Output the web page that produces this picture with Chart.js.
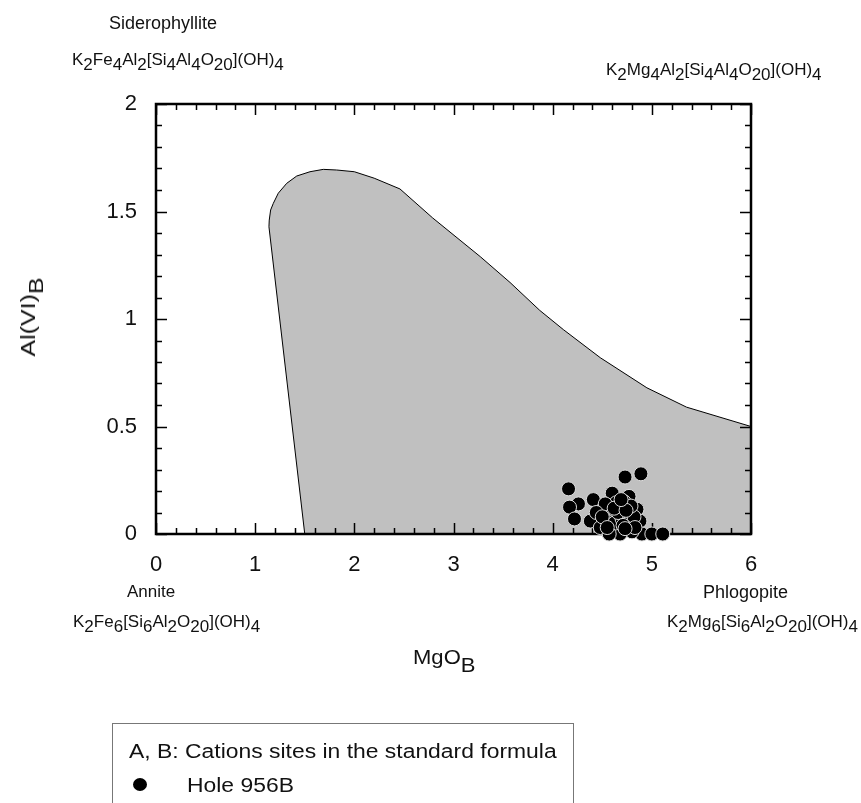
<!DOCTYPE html>
<html>
<head>
<meta charset="utf-8">
<script src="https://cdn.jsdelivr.net/npm/chart.js@4.4.0/dist/chart.umd.min.js"></script>
<style>
  html, body { margin: 0; padding: 0; background: #fff; }
  #wrap { position: relative; width: 861px; height: 803px; overflow: hidden;
          font-family: "Liberation Sans", Arial, sans-serif; color: #111; }
  #plot { position: absolute; left: 0; top: 0; }
  .lbl { position: absolute; white-space: nowrap; line-height: 1; font-size: 18px; }
  .f { font-size: 17px; }
  .s { position: relative; top: 5px; }
  .t .s { top: 8px; }
  #xTitle { left: 413px; top: 646px; font-size: 21px; transform: scaleX(1.05); transform-origin: left center; }
  #yTitle { left: 28px; top: 317px; font-size: 20px; transform: translate(-50%, -50%) rotate(-90deg) scaleX(1.25); }
  #key { position: absolute; left: 112px; top: 723px; width: 460px; height: 200px;
         border: 1px solid #777; font-size: 20px; line-height: 1; }
  #key .row { position: absolute; white-space: nowrap; transform: scaleX(1.145); transform-origin: left center; }
  #key .dot { position: absolute; left: 20px; top: 54px; width: 14px; height: 13px;
              border-radius: 50%; background: #000; }
</style>
</head>
<body>
<div id="wrap">
  <canvas id="plot" width="861" height="803"></canvas>

  <div class="lbl" style="left:109px; top:14px;">Siderophyllite</div>
  <div class="lbl f" style="left:72px; top:51px;">K<span class="s">2</span>Fe<span class="s">4</span>Al<span class="s">2</span>[Si<span class="s">4</span>Al<span class="s">4</span>O<span class="s">20</span>](OH)<span class="s">4</span></div>
  <div class="lbl f" style="left:606px; top:61px;">K<span class="s">2</span>Mg<span class="s">4</span>Al<span class="s">2</span>[Si<span class="s">4</span>Al<span class="s">4</span>O<span class="s">20</span>](OH)<span class="s">4</span></div>
  <div class="lbl f" style="left:127px; top:583px;">Annite</div>
  <div class="lbl f" style="left:73px; top:613px;">K<span class="s">2</span>Fe<span class="s">6</span>[Si<span class="s">6</span>Al<span class="s">2</span>O<span class="s">20</span>](OH)<span class="s">4</span></div>
  <div class="lbl" style="left:703px; top:583px;">Phlogopite</div>
  <div class="lbl f" style="left:667px; top:613px;">K<span class="s">2</span>Mg<span class="s">6</span>[Si<span class="s">6</span>Al<span class="s">2</span>O<span class="s">20</span>](OH)<span class="s">4</span></div>

  <div class="lbl t" id="xTitle">MgO<span class="s">B</span></div>
  <div class="lbl t" id="yTitle">Al(VI)<span class="s">B</span></div>

  <div id="key">
    <div class="row" style="left:16px; top:17px;">A, B: Cations sites in the standard formula</div>
    <div class="dot"></div>
    <div class="row" style="left:74px; top:51px;">Hole 956B</div>
  </div>
</div>

<script>
// biotite field outline (MgO_B, Al(VI)_B), traced from the foot up the Fe side and over the top
const fieldX = [1.50, 1.139, 1.142, 1.156, 1.183, 1.233, 1.318, 1.419, 1.553, 1.687, 1.822,
                2.00, 2.20, 2.46, 2.79, 3.27, 3.57, 3.87, 4.11, 4.48, 4.95, 5.35, 6.00, 6.00];
const fieldY = [0.00, 1.429, 1.46, 1.507, 1.538, 1.585, 1.631, 1.665, 1.685, 1.696, 1.693,
                1.685, 1.655, 1.605, 1.47, 1.29, 1.17, 1.04, 0.95, 0.82, 0.68, 0.59, 0.50, 0.00];

// Hole 956B analyses
const holeX = [4.89, 4.73, 4.16, 4.60, 4.41, 4.26, 4.17, 4.22, 4.38, 4.77,
               4.85, 4.48, 4.58, 4.70, 4.64, 4.75, 4.54, 4.88, 4.73, 4.60,
               4.90, 5.00, 5.11, 4.80, 4.48, 4.68, 4.64, 4.53, 4.44, 4.67,
               4.72, 4.62, 4.70, 4.76, 4.82, 4.66, 4.57, 4.71, 4.79, 4.50,
               4.62, 4.74, 4.69, 4.83, 4.55, 4.73];
const holeY = [0.28, 0.265, 0.21, 0.19, 0.16, 0.14, 0.125, 0.07, 0.06, 0.175,
               0.115, 0.10, 0.11, 0.13, 0.08, 0.09, 0.06, 0.06, 0.025, 0.02,
               0.00, 0.00, 0.00, 0.01, 0.03, 0.00, 0.145, 0.14, 0.10, 0.12,
               0.15, 0.05, 0.07, 0.05, 0.08, 0.10, 0.00, 0.04, 0.13, 0.08,
               0.12, 0.11, 0.16, 0.03, 0.03, 0.025];

const xMin = 0, xMax = 6, xStep = 1, xMinor = 0.2;
const yMin = 0, yMax = 2, yStep = 0.5, yMinor = 0.1;

const toPts = (xs, ys) => xs.map((x, i) => ({ x, y: ys[i] }));

// box frame with inward ticks on all four sides
const frameTicks = {
  id: 'frameTicks',
  beforeDatasetsDraw(chart) {
    const { ctx, chartArea: a, scales: { x, y } } = chart;
    ctx.save();
    ctx.strokeStyle = '#000';
    ctx.lineWidth = 1.5;
    ctx.beginPath();
    const nx = Math.round((xMax - xMin) / xMinor);
    for (let i = 0; i <= nx; i++) {
      const px = Math.round(x.getPixelForValue(xMin + i * xMinor)) + 0.5;
      const len = i % Math.round(xStep / xMinor) === 0 ? 11 : 6;
      ctx.moveTo(px, a.bottom); ctx.lineTo(px, a.bottom - len);
      ctx.moveTo(px, a.top); ctx.lineTo(px, a.top + len);
    }
    const ny = Math.round((yMax - yMin) / yMinor);
    for (let i = 0; i <= ny; i++) {
      const py = Math.round(y.getPixelForValue(yMin + i * yMinor)) + 0.5;
      const len = i % Math.round(yStep / yMinor) === 0 ? 11 : 6;
      ctx.moveTo(a.left, py); ctx.lineTo(a.left + len, py);
      ctx.moveTo(a.right, py); ctx.lineTo(a.right - len, py);
    }
    ctx.stroke();
    ctx.lineWidth = 2.5;
    ctx.strokeRect(a.left, a.top, a.right - a.left, a.bottom - a.top);
    ctx.restore();
  }
};

const tickFont = { family: '"Liberation Sans", Arial, sans-serif', size: 22 };

new Chart(document.getElementById('plot').getContext('2d'), {
  type: 'scatter',
  data: {
    datasets: [
      {
        label: 'Hole 956B',
        data: toPts(holeX, holeY),
        backgroundColor: '#000',
        borderColor: '#dcdcdc',
        borderWidth: 1,
        pointRadius: 7,
        clip: false
      },
      {
        label: 'Biotite field',
        data: toPts(fieldX, fieldY),
        showLine: true,
        fill: 'shape',
        backgroundColor: '#c0c0c0',
        borderColor: '#000',
        borderWidth: 1,
        pointRadius: 0,
        tension: 0
      }
    ]
  },
  options: {
    responsive: false,
    animation: false,
    layout: { padding: { left: 0, top: 104, right: 110, bottom: 209 } },
    plugins: {
      legend: { display: false },
      tooltip: { enabled: false },
      filler: { drawTime: 'beforeDatasetsDraw' }
    },
    scales: {
      x: {
        type: 'linear', min: xMin, max: xMax,
        grid: { display: false, drawTicks: false }, border: { display: false },
        ticks: { stepSize: xStep, padding: 18, color: '#111', font: tickFont },
        afterFit(s) { s.height = 60; }
      },
      y: {
        type: 'linear', min: yMin, max: yMax,
        grid: { display: false, drawTicks: false }, border: { display: false },
        ticks: { stepSize: yStep, padding: 19, color: '#111', font: tickFont,
                 callback: v => String(v) },
        afterFit(s) { s.width = 156; }
      }
    }
  },
  plugins: [frameTicks]
});
</script>
</body>
</html>
